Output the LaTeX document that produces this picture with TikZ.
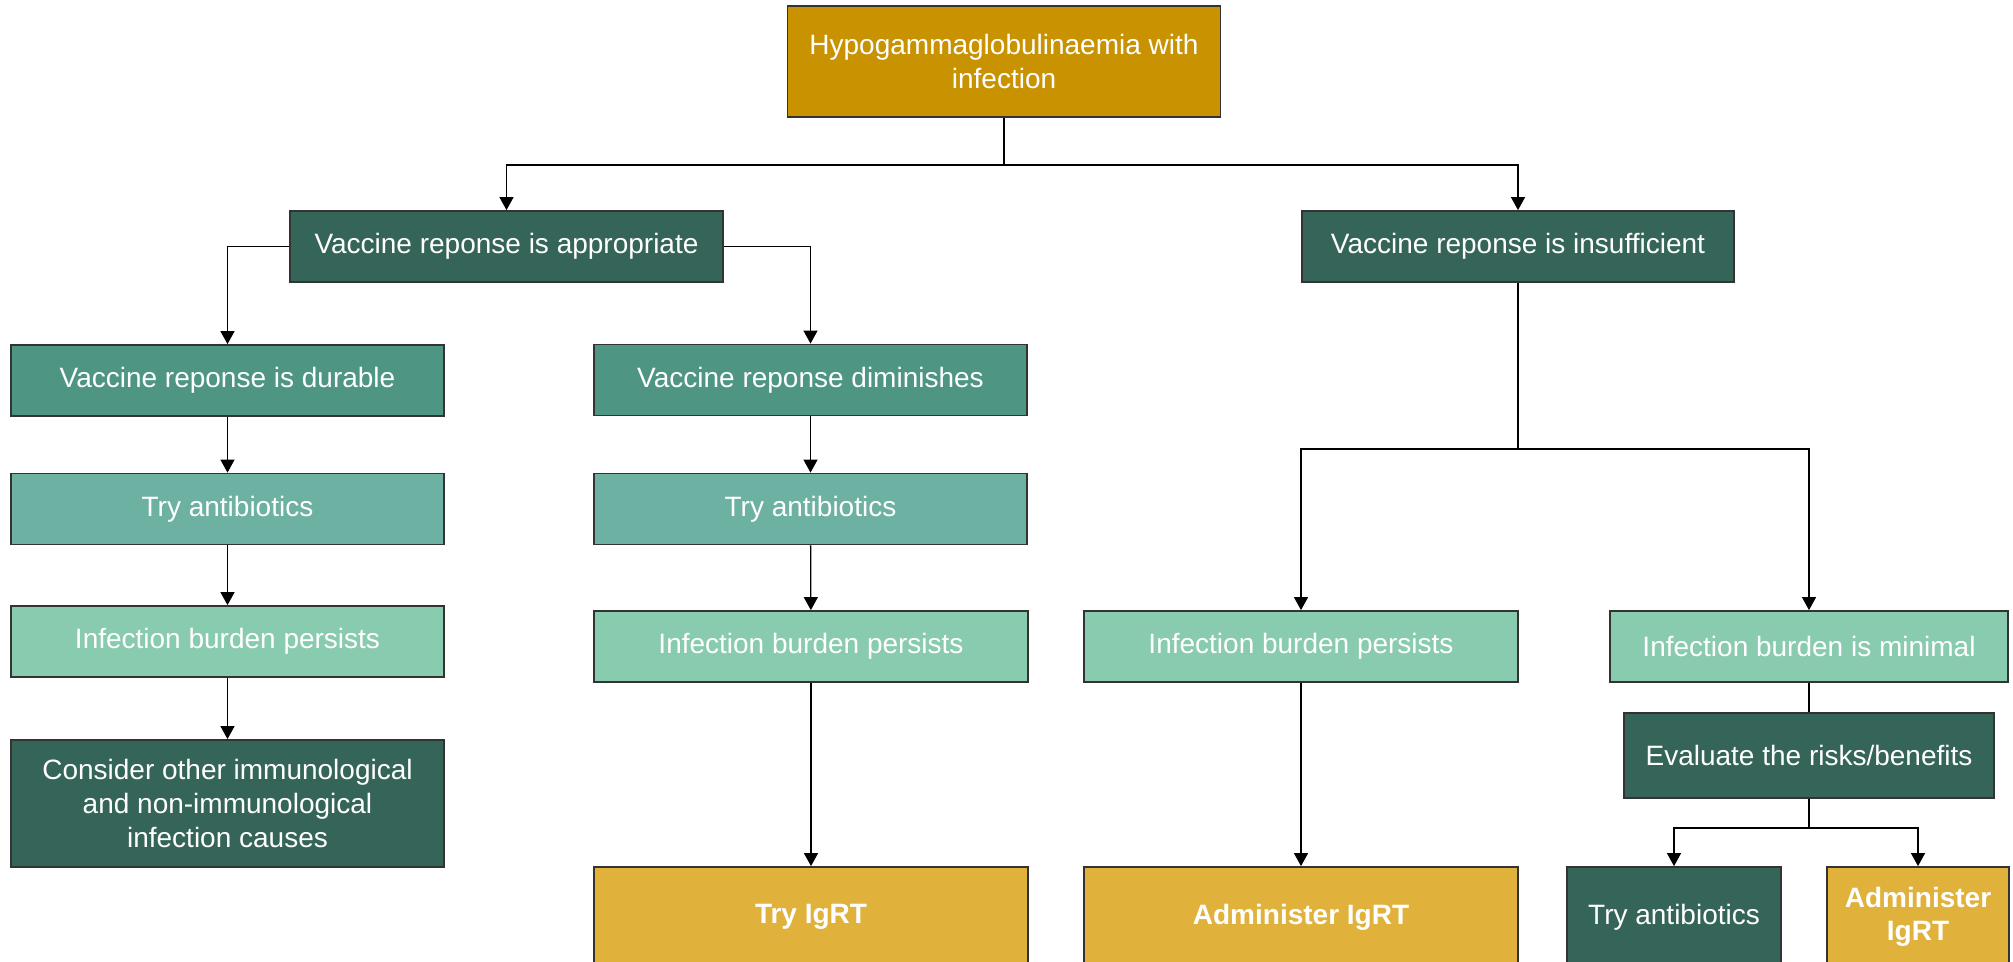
\documentclass[tikz,border=0pt]{standalone}
\usepackage{fontspec}
\setmainfont{Liberation Sans}
\usetikzlibrary{arrows.meta,positioning}
\definecolor{goldtop}{RGB}{200,146,0}
\definecolor{goldlow}{RGB}{224,178,59}
\definecolor{greendark}{RGB}{53,100,88}
\definecolor{greenmid}{RGB}{79,149,132}
\definecolor{greenlight}{RGB}{108,177,161}
\definecolor{greenpale}{RGB}{137,203,175}

\begin{document}
\begin{tikzpicture}[x=1pt,y=-1pt,
  box/.style={draw=black!80,line width=1.8pt,text=white,align=center,inner sep=0pt,
    font=\fontsize{28}{33.6}\selectfont,minimum width=433pt,minimum height=71pt},
  endbox/.style={box,fill=goldlow,font=\fontsize{28}{33.6}\selectfont\bfseries,minimum height=100pt},
  arr/.style={-{Triangle[width=14pt,length=13pt]},line width=1.3pt},
  ln/.style={line width=1.3pt}]
\useasboundingbox (0,0) rectangle (2013,961);
\clip (0,0) rectangle (2013,961);
\fill[white] (0,0) rectangle (2013,961);
% top and first split
\node[box,fill=goldtop,minimum height=111pt] (hypo) at (1004,61.5) {Hypogammaglobulinaemia with\\infection};
\node[box,fill=greendark] (vacgood) at (506.5,246.5) {Vaccine reponse is appropriate};
\node[box,fill=greendark,minimum width=432pt] (vacpoor) at (1518,246.5) {Vaccine reponse is insufficient};
% left branch
\node[box,fill=greenmid] (durable) at (227.5,380.5) {Vaccine reponse is durable};
\node[box,fill=greenlight] (antiA) at (227.5,509) {Try antibiotics};
\node[box,fill=greenpale] (burdenA) at (227.5,641.5) {Infection burden persists};
\node[box,fill=greendark,minimum height=127pt] (consider) at (227.5,803.5) {Consider other immunological\\and non-immunological\\infection causes};
\node[box,fill=greenmid] (fading) at (810.5,380) {Vaccine reponse diminishes};
\node[box,fill=greenlight] (antiB) at (810.5,509) {Try antibiotics};
\node[box,fill=greenpale,minimum width=434pt] (burdenB) at (811,646.5) {Infection burden persists};
\node[endbox,minimum width=434pt] (tryig) at (811,917) {Try IgRT};
% right branch
\node[box,fill=greenpale,minimum width=434pt] (burdenC) at (1301,646.5) {Infection burden persists};
\node[endbox,minimum width=434pt] (giveig) at (1301,917) {Administer IgRT};
\node[box,fill=greenpale,minimum width=398pt] (minimal) at (1809,646.5) {Infection burden is minimal};
\node[box,fill=greendark,minimum width=370pt,minimum height=85pt] (weigh) at (1809,755.5) {Evaluate the risks/benefits};
\node[box,fill=greendark,minimum width=214pt,minimum height=100pt] (antiC) at (1674,917) {Try antibiotics};
\node[endbox,minimum width=182pt,text width=170pt] (giveigB) at (1918,917) {Administer\\IgRT};

\draw[arr] (hypo.south) -- ++(0,47) -| (vacgood.north);
\draw[arr] (hypo.south) -- ++(0,47) -| (vacpoor.north);
\draw[arr] (vacgood.west) -| (durable.north);
\draw[arr] (vacgood.east) -| (fading.north);
\draw[arr] (durable) -- (antiA);
\draw[arr] (antiA) -- (burdenA);
\draw[arr] (burdenA) -- (consider);
\draw[arr] (fading) -- (antiB);
\draw[arr] (antiB) -- (burdenB);
\draw[arr] (burdenB) -- (tryig);
\draw[arr] (vacpoor.south) -- ++(0,166) -| (burdenC.north);
\draw[arr] (vacpoor.south) -- ++(0,166) -| (minimal.north);
\draw[arr] (burdenC) -- (giveig);
\draw[ln] (minimal) -- (weigh);
\draw[arr] (weigh.south) -- ++(0,29) -| (antiC.north);
\draw[arr] (weigh.south) -- ++(0,29) -| (giveigB.north);
\end{tikzpicture}
\end{document}
